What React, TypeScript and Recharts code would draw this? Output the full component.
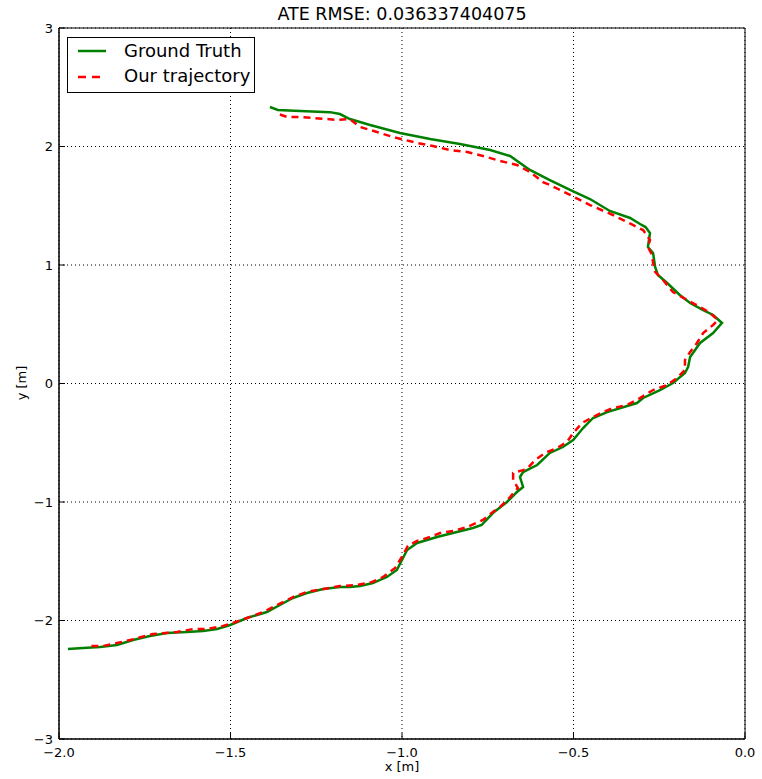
import { LineChart, Line, XAxis, YAxis, CartesianGrid, ReferenceArea } from "recharts";

const xTicks = [-2, -1.5, -1, -0.5, 0];
const yTicks = [-3, -2, -1, 0, 1, 2, 3];

// ground truth path
const gtX = [
  -1.385, -1.362, -1.297, -1.21, -1.181, -1.152, -1.093, -1.006, -0.918, -0.831, -0.743, -0.685, -0.656, -0.627,
  -0.569, -0.51, -0.452, -0.394, -0.335, -0.306, -0.29, -0.277, -0.283, -0.268, -0.262, -0.254, -0.227, -0.19,
  -0.16, -0.122, -0.093, -0.067, -0.093, -0.131, -0.16, -0.166, -0.175, -0.21, -0.248, -0.297, -0.315, -0.402,
  -0.443, -0.472, -0.501, -0.531, -0.569, -0.606, -0.647, -0.656, -0.647, -0.665, -0.694, -0.735, -0.768, -0.793,
  -0.84, -0.898, -0.956, -0.985, -1.0, -1.015, -1.044, -1.085, -1.122, -1.152, -1.181, -1.23, -1.277, -1.318,
  -1.356, -1.394, -1.452, -1.501, -1.539, -1.58, -1.627, -1.685, -1.735, -1.784, -1.831, -1.88, -1.93, -1.974,
];
const gtY = [
  2.333, 2.308, 2.3, 2.29, 2.274, 2.232, 2.181, 2.114, 2.063, 2.021, 1.97, 1.92, 1.861, 1.802,
  1.717, 1.633, 1.557, 1.456, 1.397, 1.346, 1.32, 1.27, 1.152, 1.101, 0.983, 0.916, 0.848, 0.747,
  0.679, 0.62, 0.578, 0.511, 0.426, 0.342, 0.224, 0.139, 0.089, 0.004, -0.055, -0.122, -0.165, -0.241,
  -0.291, -0.376, -0.477, -0.536, -0.586, -0.688, -0.747, -0.789, -0.873, -0.916, -1.0, -1.093, -1.194, -1.219,
  -1.253, -1.295, -1.346, -1.405, -1.489, -1.574, -1.633, -1.684, -1.709, -1.717, -1.717, -1.734, -1.768, -1.81,
  -1.869, -1.928, -1.979, -2.038, -2.072, -2.089, -2.097, -2.105, -2.131, -2.165, -2.207, -2.224, -2.232, -2.241,
];

// estimated trajectory
const estX = [
  -1.356, -1.335, -1.297, -1.219, -1.19, -1.152, -1.122, -1.073, -1.026, -0.956, -0.91, -0.86, -0.81, -0.764,
  -0.714, -0.665, -0.627, -0.589, -0.569, -0.51, -0.452, -0.385, -0.327, -0.297, -0.277, -0.283, -0.271, -0.268,
  -0.262, -0.239, -0.21, -0.169, -0.131, -0.102, -0.079, -0.093, -0.122, -0.14, -0.16, -0.175, -0.175, -0.198,
  -0.227, -0.268, -0.315, -0.344, -0.385, -0.414, -0.443, -0.475, -0.501, -0.519, -0.548, -0.583, -0.612, -0.636,
  -0.676, -0.676, -0.662, -0.685, -0.714, -0.735, -0.764, -0.81, -0.851, -0.889, -0.927, -0.956, -0.983, -0.997,
  -1.02, -1.055, -1.087, -1.131, -1.181, -1.277, -1.318, -1.364, -1.405, -1.452, -1.493, -1.522, -1.569, -1.609,
  -1.656, -1.726, -1.793, -1.831, -1.872, -1.91,
];
const estY = [
  2.27, 2.249, 2.249, 2.232, 2.224, 2.232, 2.165, 2.122, 2.08, 2.03, 2.004, 1.97, 1.954, 1.92,
  1.878, 1.844, 1.785, 1.7, 1.675, 1.591, 1.506, 1.422, 1.338, 1.295, 1.211, 1.152, 1.084, 1.017,
  0.941, 0.873, 0.772, 0.705, 0.646, 0.595, 0.536, 0.494, 0.426, 0.342, 0.266, 0.198, 0.114, 0.046,
  -0.013, -0.055, -0.139, -0.181, -0.207, -0.241, -0.283, -0.333, -0.418, -0.494, -0.544, -0.586, -0.646, -0.722,
  -0.755, -0.814, -0.882, -0.958, -1.042, -1.084, -1.152, -1.211, -1.245, -1.262, -1.304, -1.329, -1.371, -1.447,
  -1.557, -1.633, -1.675, -1.7, -1.709, -1.759, -1.802, -1.869, -1.928, -1.979, -2.021, -2.046, -2.072, -2.072,
  -2.097, -2.114, -2.165, -2.19, -2.215, -2.215,
];

const gtData = gtX.map((x, i) => ({ x, y: gtY[i] }));
const estData = estX.map((x, i) => ({ x, y: estY[i] }));

const font = "'DejaVu Sans', sans-serif";
const minus = (s: string) => s.replace("-", "\u2212");

function LegendBox() {
  return (
    <div
      style={{
        position: "absolute",
        left: 67,
        top: 37,
        width: 186,
        height: 54,
        border: "1px solid #000",
        background: "#fff",
        fontFamily: font,
        fontSize: 18,
        lineHeight: "22px",
        color: "#000",
      }}
    >
      <svg width={40} height={54} style={{ position: "absolute", left: 0, top: 0 }}>
        <line x1={10} x2={38} y1={13} y2={13} stroke="#008000" strokeWidth={2.5} />
        <line x1={10} x2={38} y1={39} y2={39} stroke="#ff0000" strokeWidth={2.5} strokeDasharray="8 6" />
      </svg>
      <div style={{ position: "absolute", left: 56, top: 2 }}>Ground Truth</div>
      <div style={{ position: "absolute", left: 56, top: 27 }}>Our trajectory</div>
    </div>
  );
}

export default function App() {
  return (
    <div style={{ position: "absolute", left: 0, top: 0, width: 762, height: 779, background: "#fff" }}>
      <LineChart
        width={762}
        height={779}
        margin={{ top: 28, right: 17, bottom: 0, left: 0 }}
        style={{ position: "absolute", left: 0, top: 0 }}
      >
        <CartesianGrid stroke="#000" strokeDasharray="1 3" strokeWidth={1} />
        <XAxis
          type="number"
          dataKey="x"
          domain={[-2, 0]}
          ticks={xTicks}
          allowDataOverflow
          height={40}
          tickSize={-6}
          tickMargin={15}
          axisLine={{ stroke: "#000" }}
          tickLine={{ stroke: "#000" }}
          tick={{ fill: "#000", fontSize: 13, fontFamily: font }}
          tickFormatter={(v: number) => minus(v.toFixed(1))}
        />
        <YAxis
          type="number"
          dataKey="y"
          domain={[-3, 3]}
          ticks={yTicks}
          allowDataOverflow
          width={59}
          tickSize={-6}
          tickMargin={12}
          axisLine={{ stroke: "#000" }}
          tickLine={{ stroke: "#000" }}
          tick={{ fill: "#000", fontSize: 13, fontFamily: font }}
          tickFormatter={(v: number) => minus(String(v))}
        />
        <ReferenceArea x1={-2} x2={0} y1={-3} y2={3} fill="none" stroke="#000" strokeWidth={1} ifOverflow="visible" />
        <Line
          data={gtData}
          dataKey="y"
          name="Ground Truth"
          stroke="#008000"
          strokeWidth={2.5}
          dot={false}
          activeDot={false}
          type="linear"
          isAnimationActive={false}
        />
        <Line
          data={estData}
          dataKey="y"
          name="Our trajectory"
          stroke="#ff0000"
          strokeWidth={2.5}
          strokeDasharray="7 5"
          dot={false}
          activeDot={false}
          type="linear"
          isAnimationActive={false}
        />
      </LineChart>
      <div
        style={{
          position: "absolute",
          left: 59,
          width: 686,
          top: 4,
          textAlign: "center",
          fontFamily: font,
          fontSize: 17.5,
          color: "#000",
        }}
      >
        ATE RMSE: 0.036337404075
      </div>
      <div
        style={{
          position: "absolute",
          left: 59,
          width: 686,
          top: 759,
          textAlign: "center",
          fontFamily: font,
          fontSize: 13,
          color: "#000",
        }}
      >
        x [m]
      </div>
      <div
        style={{
          position: "absolute",
          left: 21,
          top: 383,
          transform: "translate(-50%, -50%) rotate(-90deg)",
          fontFamily: font,
          fontSize: 13,
          color: "#000",
          whiteSpace: "nowrap",
        }}
      >
        y [m]
      </div>
      <LegendBox />
    </div>
  );
}
